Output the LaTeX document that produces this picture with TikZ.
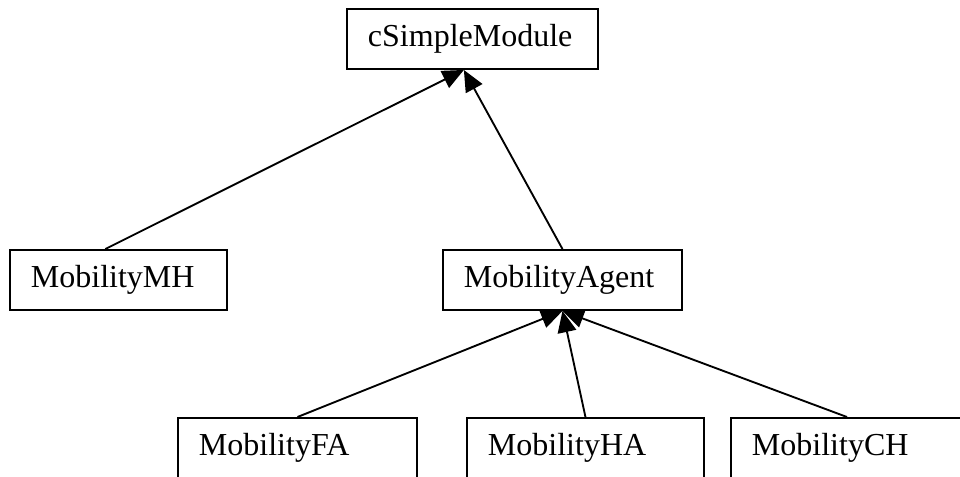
\documentclass[tikz,border=0pt]{standalone}
\usepackage{fontspec}
\setmainfont{Liberation Serif}
\usetikzlibrary{arrows.meta,calc}
\begin{document}
\begin{tikzpicture}[x=0.75pt,y=-0.75pt,
  cls/.style={draw, line width=1.45pt, anchor=north west, inner xsep=15.75pt,
    inner ysep=0pt, align=left, minimum height=45pt,
    font=\fontsize{24}{28}\selectfont, text width=#1},
  inherit/.style={line width=1.4pt, -{Triangle[length=16pt,width=14pt]}}]
  \useasboundingbox (0,0) rectangle (960,476);
  \clip (0,0) rectangle (960,476);

  % class boxes
  \node[cls=156.75pt] (csm)   at (346,8)   {cSimpleModule};
  \node[cls=131.25pt] (mh)    at (9,249)   {MobilityMH};
  \node[cls=147.75pt] (agent) at (442,249) {MobilityAgent};
  \node[cls=147.75pt] (fa)    at (177,417) {MobilityFA};
  \node[cls=146.25pt] (ha)    at (466,417) {MobilityHA};
  \node[cls=142.5pt]  (ch)    at (730,417) {MobilityCH};

  % inheritance arrows
  \coordinate (csmIn) at ($(csm.south west)!0.466!(csm.south east)$);
  \coordinate (mhOut) at ($(mh.north west)!0.44!(mh.north east)$);
  \draw[inherit] (mhOut) -- (csmIn);
  \draw[inherit] (agent.north) -- (csmIn);
  \draw[inherit] (fa.north) -- (agent.south);
  \draw[inherit] (ha.north) -- (agent.south);
  \draw[inherit] (ch.north) -- (agent.south);
\end{tikzpicture}
\end{document}
